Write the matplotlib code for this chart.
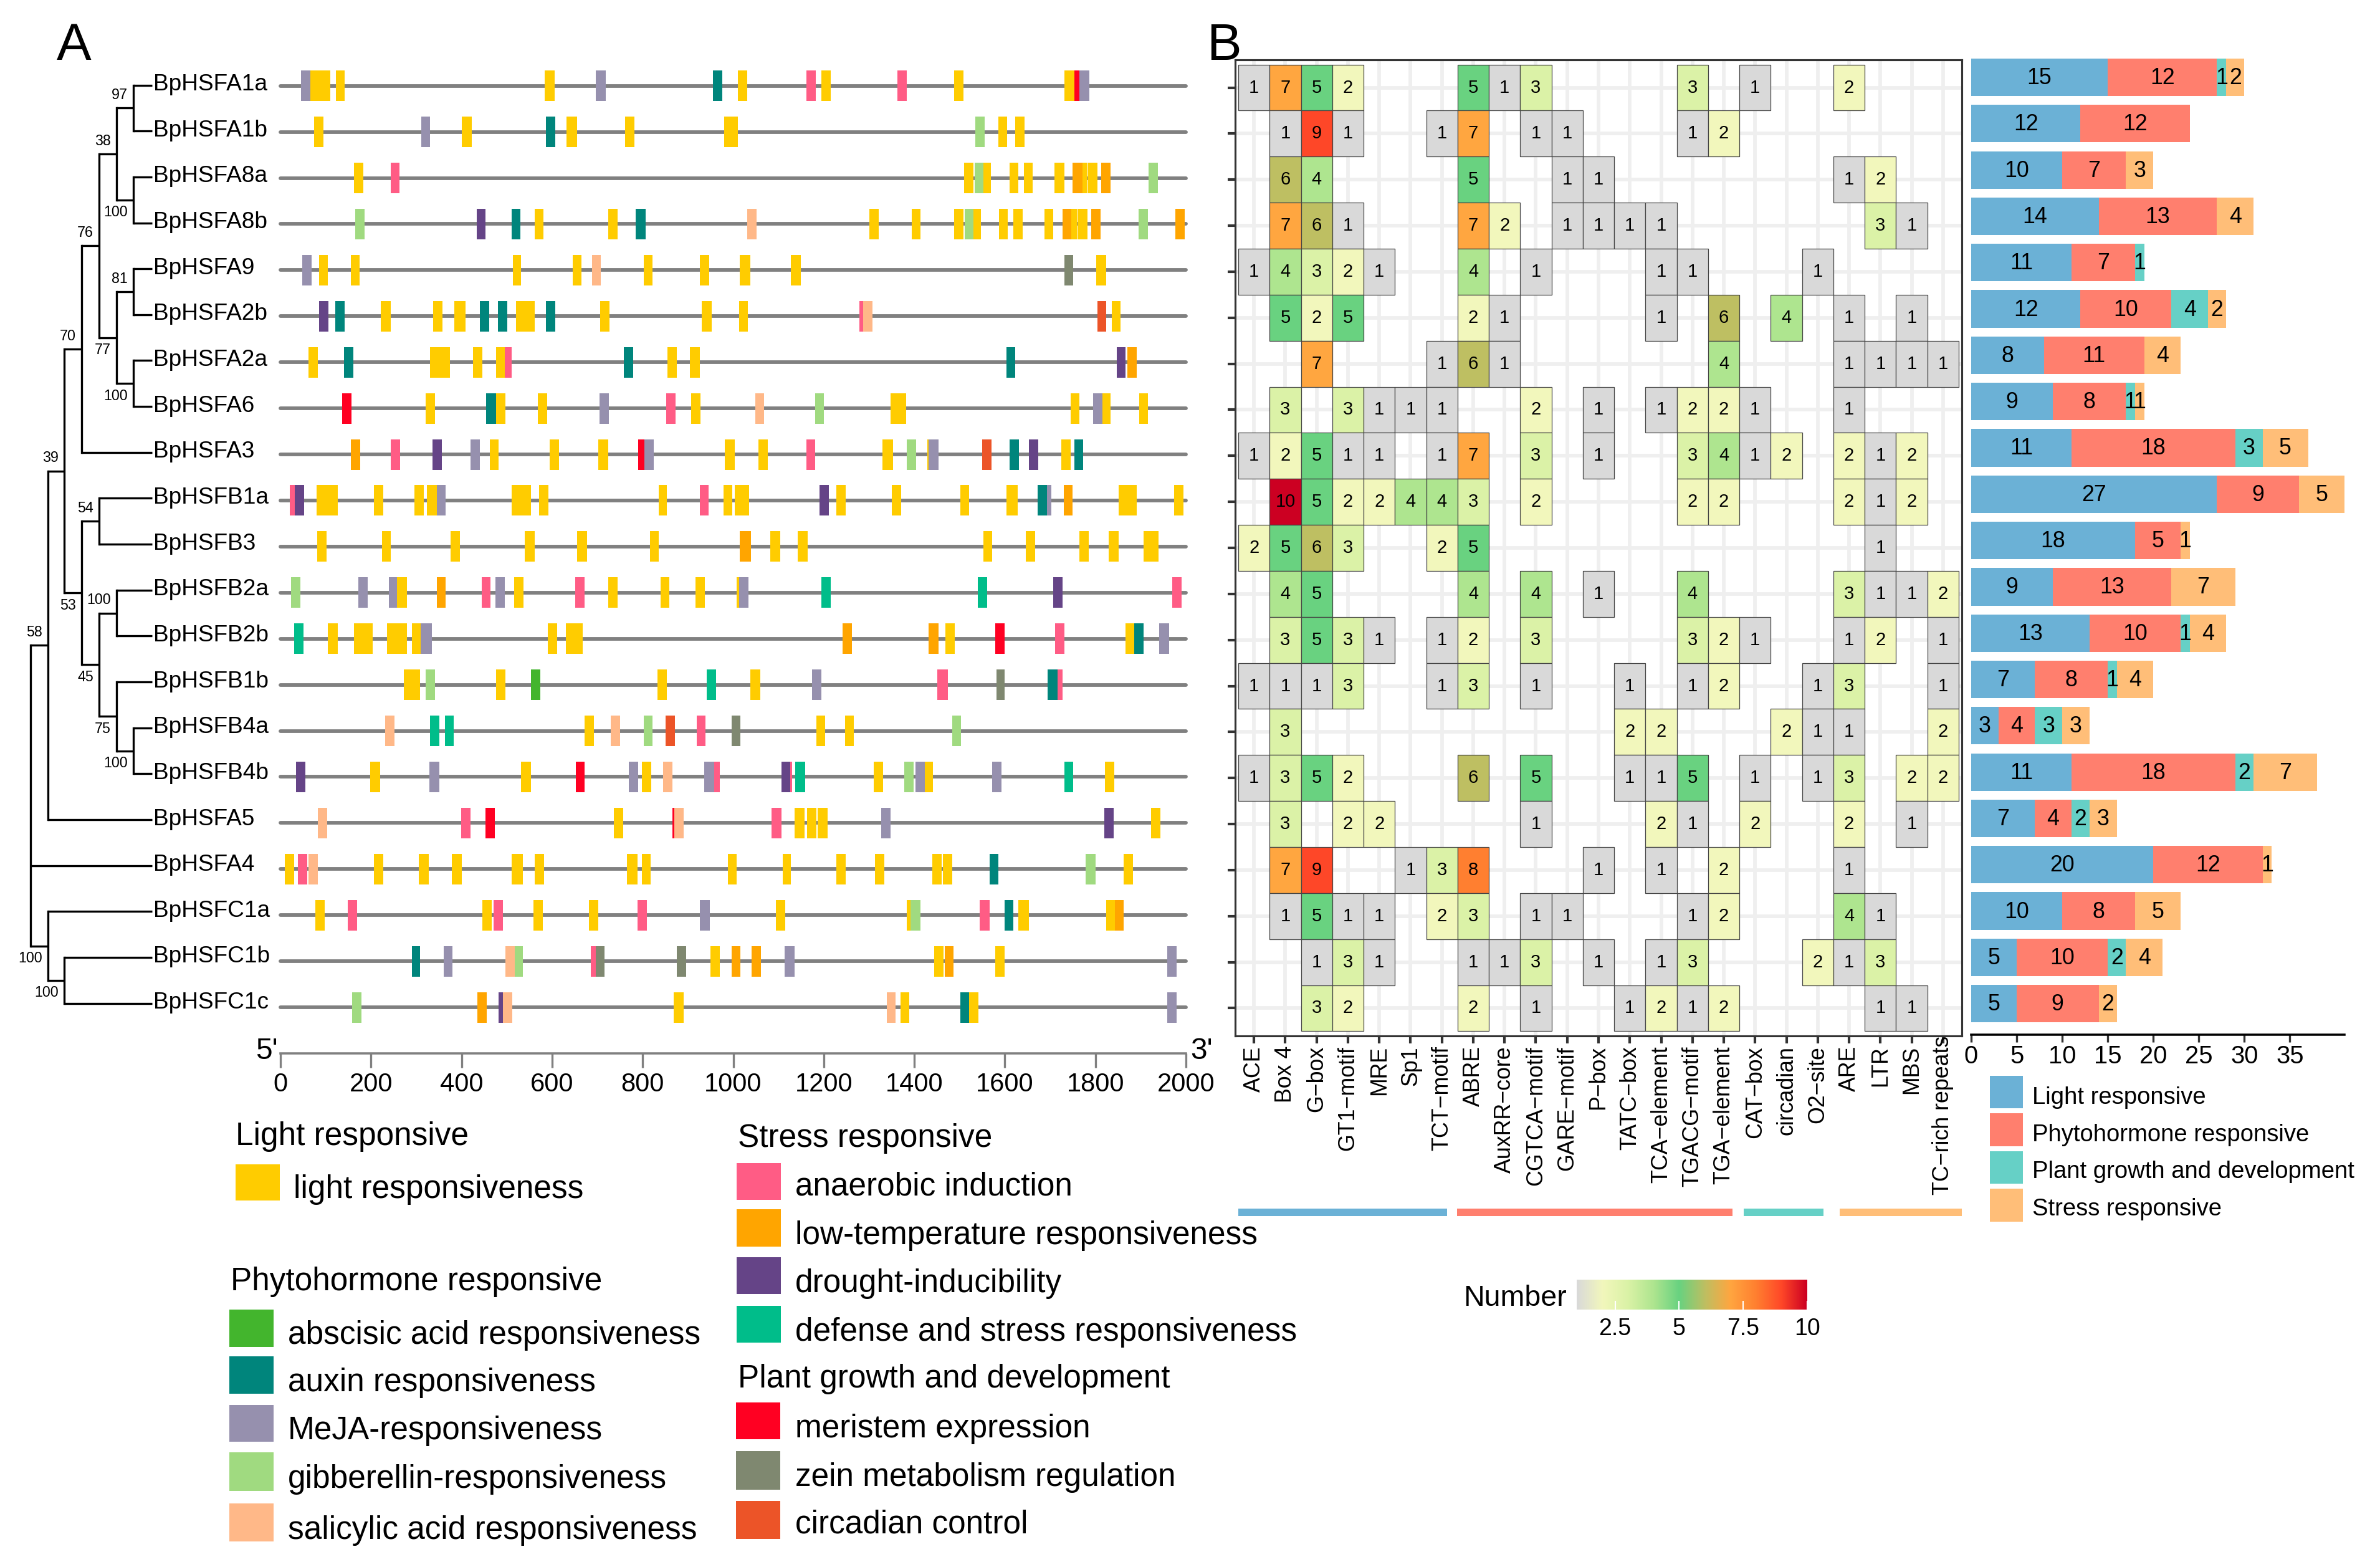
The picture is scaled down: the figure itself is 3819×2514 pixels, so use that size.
import numpy as np
import matplotlib
matplotlib.use('Agg')
import matplotlib.pyplot as plt
from matplotlib.colors import LinearSegmentedColormap, Normalize
from matplotlib.patches import Rectangle
from matplotlib.transforms import ScaledTranslation

plt.rcParams['font.family'] = ['Liberation Sans', 'DejaVu Sans']

W, H = 3819, 2514

genes = ['BpHSFA1a', 'BpHSFA1b', 'BpHSFA8a', 'BpHSFA8b', 'BpHSFA9', 'BpHSFA2b', 'BpHSFA2a',
         'BpHSFA6', 'BpHSFA3', 'BpHSFB1a', 'BpHSFB3', 'BpHSFB2a', 'BpHSFB2b', 'BpHSFB1b',
         'BpHSFB4a', 'BpHSFB4b', 'BpHSFA5', 'BpHSFA4', 'BpHSFC1a', 'BpHSFC1b', 'BpHSFC1c']

element_colors = {'L': '#FFCC00', 'P': '#FF5C85', 'O': '#FFA500', 'D': '#654487', 'E': '#00BD8A',
                  'M': '#FF0022', 'Z': '#7F8870', 'C': '#EC5428', 'A': '#43B52D', 'X': '#00857C',
                  'J': '#9690AE', 'G': '#A0DA80', 'S': '#FFB888'}

# start, end, element type for every gene (bp)
segments = [
    [(45,66,'J'),(66,110,'L'),(122,142,'L'),(583,606,'L'),(697,718,'J'),(955,976,'X'),(1010,1031,'L'),(1162,1183,'P'),
     (1195,1215,'L'),(1363,1383,'P'),(1488,1509,'L'),(1732,1753,'L'),(1753,1765,'M'),(1765,1786,'J')],
    [(75,95,'L'),(311,331,'J'),(401,422,'L'),(587,607,'X'),(632,655,'L'),(761,782,'L'),(980,1010,'L'),(1535,1555,'G'),
     (1585,1605,'L'),(1623,1644,'L')],
    [(163,183,'L'),(243,263,'P'),(1510,1531,'L'),(1533,1552,'G'),(1552,1569,'L'),(1610,1630,'L'),(1642,1661,'L'),
     (1710,1731,'L'),(1750,1771,'O'),(1771,1783,'L'),(1784,1804,'L'),(1813,1833,'O'),(1918,1938,'G')],
    [(165,186,'G'),(434,453,'D'),(510,530,'X'),(561,581,'L'),(724,744,'L'),(785,806,'X'),(1031,1051,'S'),(1301,1321,'L'),
     (1394,1414,'L'),(1488,1509,'L'),(1511,1531,'G'),(1531,1547,'L'),(1587,1607,'L'),(1619,1639,'L'),(1688,1707,'L'),
     (1727,1747,'O'),(1747,1760,'L'),(1762,1783,'L'),(1791,1811,'O'),(1895,1916,'G'),(1977,1997,'O')],
    [(48,69,'J'),(86,105,'L'),(156,175,'L'),(513,532,'L'),(645,665,'L'),(688,708,'S'),(802,822,'L'),(926,947,'L'),
     (1015,1038,'L'),(1128,1149,'L'),(1731,1751,'Z'),(1802,1824,'L')],
    [(85,106,'D'),(121,142,'X'),(222,244,'L'),(337,358,'L'),(384,409,'L'),(440,461,'X'),(480,501,'X'),(520,561,'L'),
     (586,607,'X'),(706,727,'L'),(931,952,'L'),(1013,1033,'L'),(1279,1287,'P'),(1287,1307,'S'),(1804,1824,'C'),(1836,1855,'L')],
    [(62,83,'L'),(141,161,'X'),(331,352,'L'),(352,374,'L'),(425,446,'L'),(476,496,'L'),(496,510,'P'),(759,779,'X'),
     (855,876,'L'),(905,926,'L'),(1603,1623,'X'),(1847,1866,'D'),(1871,1891,'O')],
    [(136,157,'M'),(321,341,'L'),(454,476,'X'),(476,497,'L'),(568,589,'L'),(705,725,'J'),(852,873,'P'),(907,928,'L'),
     (1049,1068,'S'),(1181,1200,'G'),(1348,1382,'L'),(1745,1765,'L'),(1795,1815,'J'),(1815,1833,'L'),(1897,1916,'L')],
    [(156,176,'O'),(244,264,'P'),(336,356,'D'),(420,440,'J'),(462,482,'L'),(595,615,'L'),(702,724,'L'),(790,804,'M'),
     (804,825,'J'),(982,1003,'L'),(1056,1077,'L'),(1162,1181,'P'),(1330,1353,'L'),(1384,1404,'G'),(1429,1431,'L'),
     (1431,1453,'J'),(1550,1571,'C'),(1610,1631,'X'),(1653,1674,'D'),(1725,1746,'L'),(1754,1773,'X')],
    [(20,32,'P'),(32,52,'D'),(80,127,'L'),(207,227,'L'),(296,317,'L'),(323,345,'L'),(345,365,'J'),(510,553,'L'),
     (571,592,'L'),(835,854,'L'),(926,946,'P'),(978,998,'L'),(1004,1035,'L'),(1191,1211,'D'),(1228,1248,'L'),
     (1350,1371,'L'),(1502,1521,'L'),(1603,1629,'L'),(1673,1693,'X'),(1693,1703,'J'),(1730,1750,'O'),(1852,1891,'L'),(1974,1995,'L')],
    [(81,102,'L'),(224,244,'L'),(376,396,'L'),(540,561,'L'),(655,677,'L'),(816,835,'L'),(1015,1039,'O'),(1082,1104,'L'),
     (1142,1164,'L'),(1552,1572,'L'),(1646,1667,'L'),(1765,1785,'L'),(1830,1851,'L'),(1906,1940,'L')],
    [(24,44,'G'),(172,193,'J'),(239,258,'J'),(258,279,'L'),(345,365,'O'),(444,464,'P'),(475,496,'J'),(516,537,'L'),
     (651,672,'P'),(724,745,'L'),(839,859,'L'),(917,937,'L'),(1007,1013,'L'),(1013,1034,'J'),(1195,1215,'E'),
     (1540,1561,'E'),(1707,1728,'D'),(1970,1991,'P')],
    [(30,51,'E'),(105,127,'L'),(163,204,'L'),(236,257,'L'),(258,280,'L'),(290,310,'L'),(310,334,'J'),(590,611,'L'),
     (631,668,'L'),(1242,1262,'O'),(1432,1453,'O'),(1469,1490,'L'),(1579,1600,'M'),(1711,1732,'P'),(1867,1886,'L'),
     (1886,1906,'X'),(1941,1963,'J')],
    [(272,309,'L'),(321,341,'G'),(476,497,'L'),(553,574,'A'),(833,854,'L'),(942,962,'E'),(1038,1060,'L'),(1174,1195,'J'),
     (1451,1474,'P'),(1581,1600,'Z'),(1695,1716,'X'),(1716,1727,'P')],
    [(231,252,'S'),(330,351,'E'),(363,383,'E'),(672,692,'L'),(730,750,'S'),(802,822,'G'),(851,871,'C'),(919,939,'P'),
     (996,1016,'Z'),(1184,1203,'L'),(1247,1267,'L'),(1484,1503,'G')],
    [(35,55,'D'),(198,220,'L'),(329,351,'J'),(532,553,'L'),(652,672,'M'),(770,790,'J'),(798,819,'L'),(845,866,'S'),
     (936,958,'J'),(958,970,'P'),(1106,1126,'D'),(1126,1130,'P'),(1137,1159,'E'),(1310,1331,'L'),(1378,1399,'G'),
     (1403,1423,'J'),(1423,1441,'L'),(1572,1592,'J'),(1731,1751,'E'),(1821,1842,'L')],
    [(83,103,'S'),(399,420,'P'),(453,474,'M'),(737,757,'L'),(866,870,'M'),(870,890,'S'),(1084,1106,'P'),(1135,1157,'L'),
     (1163,1184,'L'),(1186,1208,'L'),(1327,1348,'J'),(1819,1840,'D'),(1923,1944,'L')],
    [(10,30,'L'),(39,59,'P'),(62,83,'S'),(206,227,'L'),(305,328,'L'),(379,400,'L'),(510,535,'L'),(561,582,'L'),
     (766,789,'L'),(798,818,'L'),(988,1007,'L'),(1109,1128,'L'),(1228,1249,'L'),(1313,1334,'L'),(1440,1461,'L'),
     (1463,1484,'L'),(1567,1586,'X'),(1779,1800,'G'),(1862,1883,'L')],
    [(77,98,'L'),(149,169,'P'),(446,467,'L'),(471,491,'P'),(559,580,'L'),(682,702,'L'),(789,810,'P'),(927,948,'J'),
     (1094,1115,'L'),(1383,1392,'L'),(1392,1414,'G'),(1545,1567,'P'),(1600,1619,'X'),(1630,1653,'L'),(1824,1843,'L'),(1843,1863,'O')],
    [(290,309,'X'),(360,380,'J'),(497,518,'S'),(518,535,'G'),(686,696,'P'),(696,716,'Z'),(876,896,'Z'),(950,970,'L'),
     (996,1016,'O'),(1041,1061,'O'),(1114,1135,'J'),(1444,1465,'L'),(1467,1487,'O'),(1579,1600,'L'),(1959,1979,'J')],
    [(158,179,'G'),(435,455,'O'),(482,492,'D'),(492,512,'S'),(869,890,'L'),(1339,1359,'S'),(1369,1389,'L'),(1502,1521,'X'),
     (1521,1542,'L'),(1959,1979,'J')],
]

gene_ticks = list(range(0, 2001, 200))

# tree: (node x in px, support, label side, children); an int child is a row number
tree = (49, None, None, [
    (76.5, '58', 'above', [
        (103, '39', 'above', [
            (131, '70', 'above', [
                (159, '76', 'above', [
                    (187, '38', 'above', [
                        (214, '97', 'above', [0, 1]),
                        (214, '100', 'below', [2, 3])]),
                    (187, '77', 'below', [
                        (214, '81', 'above', [4, 5]),
                        (214, '100', 'below', [6, 7])])]),
                8]),
            (131, '53', 'below', [
                (159, '54', 'above', [9, 10]),
                (159, '45', 'below', [
                    (187, '100', 'above', [11, 12]),
                    (187, '75', 'below', [
                        13,
                        (214, '100', 'below', [14, 15])])])])]),
        16]),
    17,
    (76.5, '100', 'below', [
        18,
        (103, '100', 'below', [19, 20])])])

motifs = ['ACE', 'Box 4', 'G\u2212box', 'GT1\u2212motif', 'MRE', 'Sp1', 'TCT\u2212motif', 'ABRE', 'AuxRR\u2212core',
          'CGTCA\u2212motif', 'GARE\u2212motif', 'P\u2212box', 'TATC\u2212box', 'TCA\u2212element', 'TGACG\u2212motif',
          'TGA\u2212element', 'CAT\u2212box', 'circadian', 'O2\u2212site', 'ARE', 'LTR', 'MBS', 'TC\u2212rich repeats']

_ = 0
counts = [
    [1,7,5,2,_,_,_,5,1,3,_,_,_,_,3,_,1,_,_,2,_,_,_],
    [_,1,9,1,_,_,1,7,_,1,1,_,_,_,1,2,_,_,_,_,_,_,_],
    [_,6,4,_,_,_,_,5,_,_,1,1,_,_,_,_,_,_,_,1,2,_,_],
    [_,7,6,1,_,_,_,7,2,_,1,1,1,1,_,_,_,_,_,_,3,1,_],
    [1,4,3,2,1,_,_,4,_,1,_,_,_,1,1,_,_,_,1,_,_,_,_],
    [_,5,2,5,_,_,_,2,1,_,_,_,_,1,_,6,_,4,_,1,_,1,_],
    [_,_,7,_,_,_,1,6,1,_,_,_,_,_,_,4,_,_,_,1,1,1,1],
    [_,3,_,3,1,1,1,_,_,2,_,1,_,1,2,2,1,_,_,1,_,_,_],
    [1,2,5,1,1,_,1,7,_,3,_,1,_,_,3,4,1,2,_,2,1,2,_],
    [_,10,5,2,2,4,4,3,_,2,_,_,_,_,2,2,_,_,_,2,1,2,_],
    [2,5,6,3,_,_,2,5,_,_,_,_,_,_,_,_,_,_,_,_,1,_,_],
    [_,4,5,_,_,_,_,4,_,4,_,1,_,_,4,_,_,_,_,3,1,1,2],
    [_,3,5,3,1,_,1,2,_,3,_,_,_,_,3,2,1,_,_,1,2,_,1],
    [1,1,1,3,_,_,1,3,_,1,_,_,1,_,1,2,_,_,1,3,_,_,1],
    [_,3,_,_,_,_,_,_,_,_,_,_,2,2,_,_,_,2,1,1,_,_,2],
    [1,3,5,2,_,_,_,6,_,5,_,_,1,1,5,_,1,_,1,3,_,2,2],
    [_,3,_,2,2,_,_,_,_,1,_,_,_,2,1,_,2,_,_,2,_,1,_],
    [_,7,9,_,_,1,3,8,_,_,_,1,_,1,_,2,_,_,_,1,_,_,_],
    [_,1,5,1,1,_,2,3,_,1,1,_,_,_,1,2,_,_,_,4,1,_,_],
    [_,_,1,3,1,_,_,1,1,3,_,1,_,1,3,_,_,_,2,1,3,_,_],
    [_,_,3,2,_,_,_,2,_,1,_,_,1,2,1,2,_,_,_,_,1,1,_],
]

light = [15,12,10,14,11,12,8,9,11,27,18,9,13,7,3,11,7,20,10,5,5]
phyto = [12,12,7,13,7,10,11,8,18,9,5,13,10,8,4,18,4,12,8,10,9]
plant = [1,0,0,0,1,4,0,1,3,0,0,0,1,1,3,2,2,0,0,2,0]
stress = [2,0,3,4,0,2,4,1,5,5,1,7,4,4,3,7,3,1,5,4,2]
bar_series = [('Light responsive', light, '#6BB1D6'), ('Phytohormone responsive', phyto, '#FF7F6E'),
              ('Plant growth and development', plant, '#66D0C6'), ('Stress responsive', stress, '#FFBE78')]
bar_ticks = [0, 5, 10, 15, 20, 25, 30, 35]

heat_nodes = [(1, '#D9D9D9'), (2, '#F2F7BC'), (3, '#DAF2A6'), (4, '#AEE58F'), (5, '#68D280'), (6, '#BDBF62'),
              (7, '#FFA640'), (8, '#FF8030'), (9, '#FF4828'), (10, '#CC0022')]
heat_cmap = LinearSegmentedColormap.from_list('heat', [((v - 1) / 9, c) for v, c in heat_nodes])
heat_norm = Normalize(1, 10)


def px_axes(left, top, right, bottom):
    return fig.add_axes([left / W, 1 - bottom / H, (right - left) / W, (bottom - top) / H])


fig = plt.figure(figsize=(W / 300, H / 300), dpi=300)

# overlay in pixel coordinates for tree, legends and panel letters
over = px_axes(0, 0, W, H)
over.set_xlim(0, W)
over.set_ylim(H, 0)
over.axis('off')

over.text(91, 96, 'A', fontsize=20, va='baseline')
over.text(1936, 96, 'B', fontsize=20, va='baseline')


def tip_y(i):
    return 136.6 + 73.65 * i


def draw_node(node):
    x, support, side, children = node
    ys = []
    for child in children:
        if isinstance(child, int):
            y = tip_y(child)
            over.plot([x, 244], [y, y], color='black', lw=0.8, solid_capstyle='butt')
        else:
            y = draw_node(child)
            over.plot([x, child[0]], [y, y], color='black', lw=0.8, solid_capstyle='butt')
        ys.append(y)
    over.plot([x, x], [ys[0], ys[-1]], color='black', lw=0.8, solid_capstyle='projecting')
    mid = (ys[0] + ys[-1]) / 2
    if support:
        off = -21 if side == 'above' else 20
        over.text(x - 9, mid + off, support, fontsize=5.6, ha='right', va='center')
    return mid


draw_node(tree)

for i, name in enumerate(genes):
    over.text(246, tip_y(i) - 1, name, fontsize=8.9, va='center', ha='left')

# gene structure panel
ax = px_axes(450, 100, 1903, 1690)
ax.set_xlim(0, 2000)
ax.set_ylim(21.0, -0.51)
ax.patch.set_alpha(0)
for i, row in enumerate(segments):
    ax.plot([0, 2000], [i, i], color='#808080', lw=1.4, solid_capstyle='round', zorder=1, clip_on=False)
    for start, end, kind in row:
        ax.barh(i, end - start, left=start, height=0.663, color=element_colors[kind], lw=0, zorder=2)
for side in ['top', 'right', 'left']:
    ax.spines[side].set_visible(False)
ax.spines['bottom'].set_color('#808080')
ax.spines['bottom'].set_linewidth(0.85)
ax.set_yticks([])
ax.set_xticks(gene_ticks)
ax.tick_params(axis='x', length=5.6, width=0.8, color='#808080', labelsize=10, pad=1.5)
over.text(428, 1686, "5'", fontsize=11.5, ha='center', va='center')
over.text(1928, 1686, "3'", fontsize=11.5, ha='center', va='center')

# heatmap
hm = px_axes(1982, 96.2, 3148, 1661.8)
for r, row in enumerate(counts):
    for c, v in enumerate(row):
        if v:
            hm.bar(c, 1, bottom=r - 0.5, width=1, color=heat_cmap(heat_norm(v)),
                   edgecolor='#444444', linewidth=0.3, zorder=2)
            hm.text(c, r, str(v), fontsize=7, ha='center', va='center', zorder=3)
hm.set_xlim(-0.6, 22.6)
hm.set_ylim(20.6, -0.6)
hm.set_xticks(range(len(motifs)))
hm.set_yticks(range(len(genes)))
hm.set_yticklabels([])
hm.set_xticklabels(motifs, rotation=90, ha='center', va='top', fontsize=8.6)
hm.tick_params(length=2.9, width=1, color='#333333', pad=1)
hm.grid(color='#EFEFEF', lw=1.4)
hm.set_axisbelow(True)
for s in hm.spines.values():
    s.set_color('#333333')
    s.set_linewidth(0.75)
last = hm.get_xticklabels()[-1]
last.set_transform(last.get_transform() + ScaledTranslation(0, 16 / 300, fig.dpi_scale_trans))

# category strip below the heatmap
strip = [(1987, 2322, '#6BB1D6'), (2338, 2780, '#FF7F6E'), (2798, 2926, '#66D0C6'), (2952, 3148, '#FFBE78')]
for x0, x1, col in strip:
    over.add_patch(Rectangle((x0, 1939), x1 - x0, 12, color=col, lw=0))

# stacked bars
bx = px_axes(3163, 94, 3762, 1660)
left = np.zeros(len(genes))
ypos = np.arange(len(genes))
for name, series, col in bar_series:
    series = np.array(series)
    bx.barh(ypos, series, left=left, height=0.81, color=col, lw=0)
    for y, v, l in zip(ypos, series, left):
        if v > 0:
            bx.text(l + v / 2, y + 0.02, str(v), fontsize=8.6, ha='center', va='center')
    left += series
bx.set_xlim(0, 41)
bx.set_ylim(20.67, -0.404)
bx.set_xticks(bar_ticks)
bx.set_yticks([])
bx.tick_params(axis='x', length=2.9, width=0.8, color='#333333', labelsize=9.6, pad=1)
for side in ['top', 'right', 'left']:
    bx.spines[side].set_visible(False)
bx.spines['bottom'].set_linewidth(0.85)

# legend of the bars
bar_leg_y = [(1726, 1778, 1761), (1786, 1839, 1821), (1847, 1899, 1880), (1907, 1960, 1940)]
for (name, series, col), (y0, y1, yt) in zip(bar_series, bar_leg_y):
    over.add_patch(Rectangle((3193, y0), 53, y1 - y0, color=col, lw=0))
    over.text(3261, yt, name, fontsize=9.2, va='center')

# colour bar
cb = px_axes(2530, 2052.5, 2900, 2101.5)
cb.imshow(np.linspace(1, 10, 256)[None, :], extent=[1, 10, 0, 1], aspect='auto', cmap=heat_cmap, vmin=1, vmax=10)
cb.set_yticks([])
cb.set_xticks([2.5, 5, 7.5, 10])
cb.set_xticklabels(['2.5', '5', '7.5', '10'])
cb.tick_params(axis='x', direction='in', length=3.6, width=0.5, color='white', labelsize=9, pad=3)
for s in cb.spines.values():
    s.set_visible(False)
over.text(2348, 2083, 'Number', fontsize=11.2, va='center')

# element legend
headers = [('Light responsive', 378, 1823), ('Phytohormone responsive', 370, 2056),
           ('Stress responsive', 1184, 1826), ('Plant growth and development', 1184, 2212)]
for txt, x, y in headers:
    over.text(x, y, txt, fontsize=12.35, va='center')

legend_items = [
    ('light responsiveness', 'L', 378, 1868, 1926, 471, 1908),
    ('abscisic acid responsiveness', 'A', 368, 2101, 2161, 462, 2142),
    ('auxin responsiveness', 'X', 368, 2176, 2236, 462, 2218),
    ('MeJA-responsiveness', 'J', 368, 2254, 2313, 462, 2295),
    ('gibberellin-responsiveness', 'G', 368, 2330, 2392, 462, 2373),
    ('salicylic acid responsiveness', 'S', 368, 2412, 2473, 462, 2455),
    ('anaerobic induction', 'P', 1182, 1866, 1925, 1276, 1904),
    ('low-temperature responsiveness', 'O', 1182, 1940, 2000, 1276, 1982),
    ('drought-inducibility', 'D', 1182, 2017, 2076, 1276, 2059),
    ('defense and stress responsiveness', 'E', 1182, 2095, 2154, 1276, 2137),
    ('meristem expression', 'M', 1181, 2250, 2309, 1276, 2292),
    ('zein metabolism regulation', 'Z', 1181, 2328, 2390, 1276, 2370),
    ('circadian control', 'C', 1181, 2408, 2469, 1276, 2446),
]
for txt, kind, x, y0, y1, tx, ty in legend_items:
    over.add_patch(Rectangle((x, y0), 71, y1 - y0, color=element_colors[kind], lw=0))
    over.text(tx, ty, txt, fontsize=12.35, va='center')

fig.savefig('out.png', dpi=300)
